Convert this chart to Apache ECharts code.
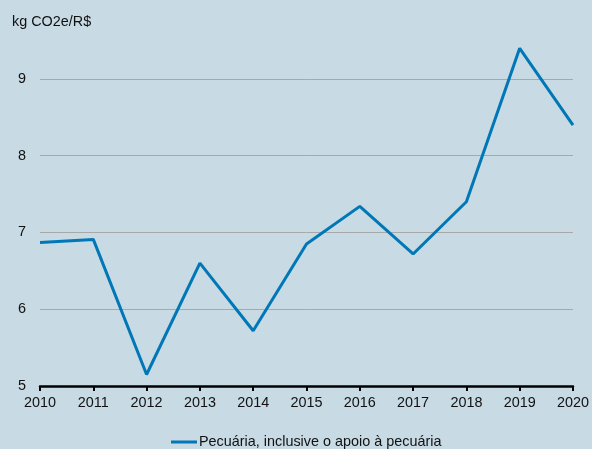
<!DOCTYPE html>
<html>
<head>
<meta charset="utf-8">
<script src="https://cdn.jsdelivr.net/npm/echarts@6/dist/echarts.min.js"></script>
<style>
  html, body { margin: 0; padding: 0; background: #c8dae4; }
  #chart { width: 592px; height: 449px; }
</style>
</head>
<body>
<div id="chart"></div>
<script>
// Emission intensity of livestock activity, per year
const years = ['2010','2011','2012','2013','2014','2015','2016','2017','2018','2019','2020'];
const intensity = [6.87, 6.91, 5.15, 6.60, 5.72, 6.85, 7.34, 6.72, 7.40, 9.40, 8.40];
const seriesName = 'Pecuária, inclusive o apoio à pecuária';
const unitLabel = 'kg CO2e/R$';

const chart = echarts.init(document.getElementById('chart'));
const fontFamily = 'Liberation Sans, Arial, sans-serif';
const fontSize = 14.4;

chart.setOption({
  backgroundColor: '#c8dae4',
  animation: false,
  title: {
    text: unitLabel,
    left: 7,
    top: 10,
    textStyle: { fontFamily, fontSize, fontWeight: 'normal', color: '#111' }
  },
  legend: {
    top: 430,
    left: 166,
    icon: 'rect',
    itemWidth: 26,
    itemHeight: 3,
    textStyle: { fontFamily, fontSize, color: '#111', padding: [0, 0, 0, -3] },
    data: [seriesName]
  },
  grid: { left: 40, right: 16, top: 40.6, bottom: 63, containLabel: false },
  xAxis: {
    type: 'category',
    data: years,
    boundaryGap: false,
    axisLine: { lineStyle: { color: '#000', width: 2.5 } },
    axisTick: { show: true, length: 5, lineStyle: { color: '#000', width: 2 } },
    axisLabel: { fontFamily, fontSize, color: '#111', margin: 10 }
  },
  yAxis: {
    type: 'value',
    min: 5,
    max: 9.5,
    interval: 1,
    axisLine: { show: false },
    axisTick: { show: false },
    axisLabel: {
      fontFamily, fontSize, color: '#111', margin: 14,
      showMaxLabel: false,
      formatter: v => (Number.isInteger(v) ? String(v) : '')
    },
    splitLine: { show: true, showMinLine: false, showMaxLine: false, lineStyle: { color: '#a8a8a8', width: 1 } }
  },
  series: [{
    name: seriesName,
    type: 'line',
    data: intensity,
    symbol: 'none',
    clip: false,
    lineStyle: { color: '#0077b6', width: 3 },
    itemStyle: { color: '#0077b6' }
  }]
});
</script>
</body>
</html>
